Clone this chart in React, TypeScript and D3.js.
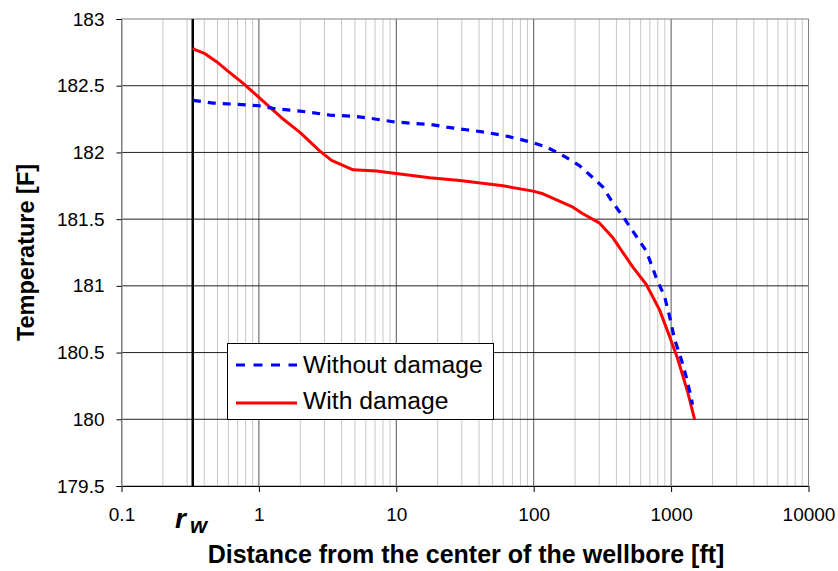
import React, { useEffect, useRef } from "react";
import * as d3 from "d3";

const W = 838;
const H = 571;

// Data
const withoutDamageX = [0.331, 0.465, 0.707, 1.0, 1.27, 1.99, 3.28, 5.0, 6.07, 9.48, 12.5, 17.5, 23.2, 32.4, 45.3, 65.0, 93.5, 124, 155, 188, 216, 270, 319, 367, 446, 543, 661, 780, 897, 975, 1060, 1185, 1288, 1402, 1432];
const withoutDamageT = [182.39, 182.37, 182.36, 182.35, 182.33, 182.31, 182.28, 182.27, 182.26, 182.23, 182.22, 182.21, 182.19, 182.17, 182.15, 182.12, 182.08, 182.04, 181.99, 181.94, 181.9, 181.81, 181.74, 181.64, 181.52, 181.39, 181.26, 181.06, 180.92, 180.77, 180.6, 180.45, 180.32, 180.16, 180.11];

const withDamageX = [0.331, 0.342, 0.405, 0.492, 0.595, 0.765, 1.005, 1.46, 1.99, 2.78, 3.38, 4.85, 7.18, 10.3, 17.5, 29.0, 59.8, 98.8, 116.8, 193, 228, 302, 377, 527, 660, 824, 975, 1120, 1324, 1482];
const withDamageT = [182.78, 182.77, 182.74, 182.68, 182.61, 182.52, 182.41, 182.26, 182.15, 182.01, 181.94, 181.87, 181.86, 181.84, 181.81, 181.79, 181.75, 181.71, 181.69, 181.59, 181.54, 181.47, 181.36, 181.14, 181.01, 180.82, 180.62, 180.45, 180.2, 180.0];

const xTickValues = [0.1, 1, 10, 100, 1000, 10000];
const xTickLabels = ["0.1", "1", "10", "100", "1000", "10000"];
const yTickValues = [179.5, 180, 180.5, 181, 181.5, 182, 182.5, 183];
const yTickLabels = ["179.5", "180", "180.5", "181", "181.5", "182", "182.5", "183"];

const rw = 0.33;
const seriesNames = ["Without damage", "With damage"];

const FONT = "'Liberation Sans', Arial, sans-serif";

export default function App() {
  const ref = useRef<SVGSVGElement | null>(null);

  useEffect(() => {
    const svg = d3.select(ref.current);
    svg.selectAll("*").remove();

    const left = 121.5, right = 808.5, top = 19, bottom = 486;
    const x = d3.scaleLog().domain([0.1, 10000]).range([left, right]);
    const y = d3.scaleLinear().domain([179.5, 183]).range([bottom, top]);

    svg.append("rect").attr("x", 0).attr("y", 0).attr("width", W).attr("height", H).attr("fill", "#fff");

    const g = svg.append("g");

    // minor vertical gridlines
    const minors: number[] = [];
    for (let e = -1; e < 4; e++) {
      for (let m = 2; m <= 9; m++) minors.push(m * Math.pow(10, e));
    }
    g.selectAll("line.minor").data(minors).enter().append("line")
      .attr("x1", (d) => x(d)).attr("x2", (d) => x(d))
      .attr("y1", top).attr("y2", bottom)
      .attr("stroke", "#c8c8c8").attr("stroke-width", 1);

    // major vertical gridlines
    g.selectAll("line.majv").data(xTickValues.slice(1, -1)).enter().append("line")
      .attr("x1", (d) => x(d)).attr("x2", (d) => x(d))
      .attr("y1", top).attr("y2", bottom)
      .attr("stroke", "#555").attr("stroke-width", 1);

    // horizontal gridlines
    g.selectAll("line.majh").data(yTickValues.slice(1, -1)).enter().append("line")
      .attr("x1", left).attr("x2", right)
      .attr("y1", (d) => y(d)).attr("y2", (d) => y(d))
      .attr("stroke", "#222").attr("stroke-width", 1);

    // frame
    g.append("rect").attr("x", left).attr("y", top).attr("width", right - left).attr("height", bottom - top)
      .attr("fill", "none").attr("stroke", "#808080").attr("stroke-width", 1);

    // x axis
    const xAxis = d3.axisBottom(x).tickValues(xTickValues).tickSize(6).tickPadding(16)
      .tickFormat((_d, i) => xTickLabels[i]);
    const xa = g.append("g").attr("transform", `translate(0,${bottom})`).call(xAxis as any);
    xa.select(".domain").attr("stroke", "#000").attr("d", `M${left},0.5H${right}`);
    xa.selectAll(".tick line").attr("stroke", "#000");
    xa.selectAll("text").attr("font-family", FONT).attr("font-size", 19).attr("fill", "#000");

    // y axis
    const yAxis = d3.axisLeft(y).tickValues(yTickValues).tickSize(5).tickPadding(12)
      .tickFormat((_d, i) => yTickLabels[i]);
    const ya = g.append("g").attr("transform", `translate(${left},0)`).call(yAxis as any);
    ya.select(".domain").attr("stroke", "#808080");
    ya.selectAll(".tick line").attr("stroke", "#000");
    ya.selectAll("text").attr("font-family", FONT).attr("font-size", 19).attr("fill", "#000");

    // rw line
    g.append("line").attr("x1", x(rw)).attr("x2", x(rw)).attr("y1", top).attr("y2", bottom)
      .attr("stroke", "#000").attr("stroke-width", 2.5);

    const line = d3.line<[number, number]>().x((d) => x(d[0])).y((d) => y(d[1]));
    const blue: [number, number][] = withoutDamageX.map((v, i) => [v, withoutDamageT[i]]);
    const red: [number, number][] = withDamageX.map((v, i) => [v, withDamageT[i]]);

    g.append("path").attr("d", line(red)!).attr("fill", "none").attr("stroke", "#ff0000")
      .attr("stroke-width", 3).attr("stroke-linejoin", "round");
    g.append("path").attr("d", line(blue)!).attr("fill", "none").attr("stroke", "#0000ff")
      .attr("stroke-width", 3.2).attr("stroke-dasharray", "8,7");

    // legend
    const lg = g.append("g");
    lg.append("rect").attr("x", 227.5).attr("y", 343.5).attr("width", 266).attr("height", 76)
      .attr("fill", "#fff").attr("stroke", "#000").attr("stroke-width", 1);
    lg.append("line").attr("x1", 236).attr("x2", 297).attr("y1", 365).attr("y2", 365)
      .attr("stroke", "#0000ff").attr("stroke-width", 3.2).attr("stroke-dasharray", "9,8.5");
    lg.append("line").attr("x1", 236).attr("x2", 297).attr("y1", 403).attr("y2", 403)
      .attr("stroke", "#ff0000").attr("stroke-width", 3);
    lg.append("text").attr("x", 303).attr("y", 373).attr("font-family", FONT).attr("font-size", 24.7)
      .attr("fill", "#000").text(seriesNames[0]);
    lg.append("text").attr("x", 303).attr("y", 408.5).attr("font-family", FONT).attr("font-size", 24.7)
      .attr("fill", "#000").text(seriesNames[1]);

    // rw label
    const rt = g.append("text").attr("x", 175).attr("y", 528).attr("font-family", FONT)
      .attr("font-weight", "bold").attr("font-style", "italic").attr("font-size", 28).attr("fill", "#000");
    rt.append("tspan").text("r");
    rt.append("tspan").attr("dx", 4).attr("dy", 5).attr("font-size", 22).text("w");

    // axis titles
    g.append("text").attr("x", 466).attr("y", 563).attr("text-anchor", "middle")
      .attr("font-family", FONT).attr("font-weight", "bold").attr("font-size", 25).attr("fill", "#000")
      .text("Distance from the center of the wellbore [ft]");
    g.append("text").attr("transform", `translate(34,252.5) rotate(-90)`).attr("text-anchor", "middle")
      .attr("font-family", FONT).attr("font-weight", "bold").attr("font-size", 23.5).attr("fill", "#000")
      .text("Temperature [F]");
  }, []);

  return (
    <svg ref={ref} width={W} height={H} style={{ position: "absolute", left: 0, top: 0, display: "block" }} />
  );
}
